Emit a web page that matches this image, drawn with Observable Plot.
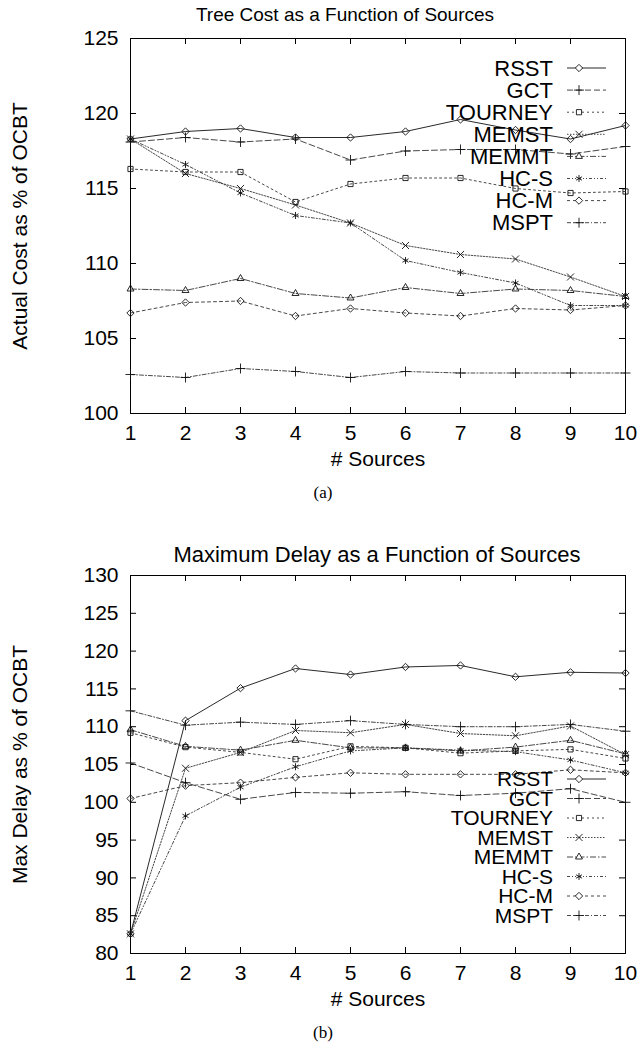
<!DOCTYPE html>
<html><head><meta charset="utf-8">
<script src="https://cdn.jsdelivr.net/npm/d3@7"></script>
<script src="https://cdn.jsdelivr.net/npm/@observablehq/plot@0.6"></script>
<style>
body{margin:0;background:#fff;}
#page{position:relative;width:638px;height:1046px;font-family:"Liberation Sans",Arial,Helvetica,sans-serif;color:#000;overflow:hidden}
.title{position:absolute;white-space:nowrap;transform:translate(-50%,-50%);line-height:1}
.cap{position:absolute;font-family:"Liberation Serif","Times New Roman",serif;transform:translate(-50%,-50%);font-size:17px;line-height:1}
.panel{position:absolute;left:0}
</style></head><body>
<div id="page">
  <div class="title" id="titleA" style="left:345px;top:14px;font-size:19px">Tree Cost as a Function of Sources</div>
  <div class="panel" id="panelA" style="top:22px"></div>
  <div class="cap" style="left:323px;top:492px">(a)</div>
  <div class="title" id="titleB" style="left:377px;top:555px;font-size:22px">Maximum Delay as a Function of Sources</div>
  <div class="panel" id="panelB" style="top:563px"></div>
  <div class="cap" style="left:323px;top:1032px">(b)</div>
</div>
<script>
// ---- data ----
const sources = [1, 2, 3, 4, 5, 6, 7, 8, 9, 10];
const seriesNames = ["RSST", "GCT", "TOURNEY", "MEMST", "MEMMT", "HC-S", "HC-M", "MSPT"];

// (a) Actual cost as % of OCBT
const costRSST    = [118.3, 118.8, 119.0, 118.4, 118.4, 118.8, 119.6, 118.9, 118.3, 119.2];
const costGCT     = [118.1, 118.4, 118.1, 118.3, 116.9, 117.5, 117.6, 117.6, 117.3, 117.8];
const costTOURNEY = [116.3, 116.1, 116.1, 114.1, 115.3, 115.7, 115.7, 115.0, 114.7, 114.8];
const costMEMST   = [118.3, 116.0, 115.0, 113.9, 112.7, 111.2, 110.6, 110.3, 109.1, 107.8];
const costMEMMT   = [108.3, 108.2, 109.0, 108.0, 107.7, 108.4, 108.0, 108.3, 108.2, 107.8];
const costHCS     = [118.3, 116.6, 114.7, 113.2, 112.7, 110.2, 109.4, 108.7, 107.2, 107.2];
const costHCM     = [106.7, 107.4, 107.5, 106.5, 107.0, 106.7, 106.5, 107.0, 106.9, 107.2];
const costMSPT    = [102.6, 102.4, 103.0, 102.8, 102.4, 102.8, 102.7, 102.7, 102.7, 102.7];

// (b) Max delay as % of OCBT
const delayRSST    = [82.6, 110.8, 115.1, 117.7, 116.9, 117.9, 118.1, 116.6, 117.2, 117.1];
const delayGCT     = [105.2, 102.6, 100.4, 101.3, 101.2, 101.4, 100.9, 101.2, 101.8, 100.0];
const delayTOURNEY = [109.2, 107.3, 106.6, 105.7, 107.4, 107.2, 106.5, 106.8, 107.0, 105.8];
const delayMEMST   = [82.6, 104.5, 106.6, 109.5, 109.2, 110.3, 109.1, 108.8, 110.1, 106.3];
const delayMEMMT   = [109.6, 107.4, 106.9, 108.2, 107.2, 107.2, 106.8, 107.3, 108.2, 106.4];
const delayHCS     = [82.6, 98.2, 102.0, 104.7, 106.8, 107.2, 106.9, 106.7, 105.6, 103.9];
const delayHCM     = [100.5, 102.2, 102.6, 103.3, 103.9, 103.7, 103.7, 103.7, 104.3, 103.9];
const delayMSPT    = [112.1, 110.2, 110.6, 110.3, 110.8, 110.3, 110.0, 110.0, 110.3, 109.4];

const costTicks  = [100, 105, 110, 115, 120, 125];
const delayTicks = [80, 85, 90, 95, 100, 105, 110, 115, 120, 125, 130];

const costSeries  = [costRSST, costGCT, costTOURNEY, costMEMST, costMEMMT, costHCS, costHCM, costMSPT];
const delaySeries = [delayRSST, delayGCT, delayTOURNEY, delayMEMST, delayMEMMT, delayHCS, delayHCM, delayMSPT];

// ---- styles ----
const dashes  = ["none", "6,3", "2,3", "1.5,1.5", "6,2,1.5,2", "3,2,1,2,1,2", "3,3", "4,2,1,2"];
const symbols = ["diamond2", "plus", "square2", "times", "triangle2", "asterisk", "diamond2", "plus"];
const d3sym = {diamond2: d3.symbolDiamond2, plus: d3.symbolPlus, square2: d3.symbolSquare2, times: d3.symbolTimes, triangle2: d3.symbolTriangle2, asterisk: d3.symbolAsterisk};
const lineColor = (i) => i === 0 ? "#111" : "#333";

function toRows(seriesArr) {
  const rows = [];
  seriesArr.forEach((vals, i) => vals.forEach((v, j) => rows.push({series: seriesNames[i], x: sources[j], y: v})));
  return rows;
}

function makePanel({series, yDomain, yTicks, yLabel, marginTop, plotH, marginBottom, legendY0, legendStep, legendFont}) {
  const width = 638, marginLeft = 130, marginRight = 13;
  const plotW = width - marginLeft - marginRight;
  const rows = toRows(series);
  const marks = [
    Plot.frame({stroke: "#000", strokeWidth: 1}),
    Plot.tickY(yTicks, {y: d => d, insetRight: plotW - 6, stroke: "#000"}),
    Plot.tickY(yTicks, {y: d => d, insetLeft: plotW - 6, stroke: "#000"}),
    Plot.tickX(sources, {x: d => d, insetTop: plotH - 6, stroke: "#000"}),
    Plot.tickX(sources, {x: d => d, insetBottom: plotH - 6, stroke: "#000"}),
    Plot.axisY({ticks: yTicks, tickSize: 0, tickPadding: 12, tickFormat: d => d, label: yLabel, labelAnchor: "center", labelOffset: 118, labelArrow: false}),
    Plot.axisX({ticks: sources, tickSize: 0, tickPadding: 12, tickFormat: d => d, label: "# Sources", labelAnchor: "center", labelOffset: 52, labelArrow: false})
  ];
  seriesNames.forEach((name, i) => {
    const data = rows.filter(r => r.series === name);
    marks.push(Plot.line(data, {x: "x", y: "y", stroke: lineColor(i), strokeWidth: 0.9, strokeDasharray: dashes[i] === "none" ? null : dashes[i]}));
    marks.push(Plot.dot(data, {x: "x", y: "y", symbol: symbols[i], r: 3.3, stroke: "#111", strokeWidth: 0.9, fill: "none"}));
  });
  // legend
  marks.push((index, scales, values, dims) => {
    const g = d3.create("svg:g");
    seriesNames.forEach((name, i) => {
      const y = dims.marginTop + legendY0 + i * legendStep;
      g.append("text").attr("x", 553).attr("y", y).attr("dy", "0.35em").attr("text-anchor", "end")
        .attr("font-size", legendFont).attr("fill", "#000").text(name);
      g.append("line").attr("x1", 567).attr("x2", 606).attr("y1", y).attr("y2", y)
        .attr("stroke", lineColor(i)).attr("stroke-width", 0.9)
        .attr("stroke-dasharray", dashes[i] === "none" ? null : dashes[i]);
      g.append("path").attr("transform", `translate(579,${y})`)
        .attr("d", d3.symbol(d3sym[symbols[i]], 3.3 * 3.3 * Math.PI)())
        .attr("fill", "#fff").attr("stroke", "#111").attr("stroke-width", 0.9);
    });
    return g.node();
  });
  return Plot.plot({
    width, height: marginTop + plotH + marginBottom,
    marginLeft, marginRight, marginTop, marginBottom,
    x: {domain: [1, 10]},
    y: {domain: yDomain},
    style: {fontFamily: '"Liberation Sans", Arial, Helvetica, sans-serif', fontSize: "21px", color: "#000", background: "transparent", overflow: "visible"},
    marks
  });
}

document.getElementById("panelA").append(makePanel({
  series: costSeries, yDomain: [100, 125], yTicks: costTicks, yLabel: "Actual Cost as % of OCBT",
  marginTop: 16, plotH: 375, marginBottom: 60, legendY0: 30, legendStep: 22.1, legendFont: "22px"
}));
document.getElementById("panelB").append(makePanel({
  series: delaySeries, yDomain: [80, 130], yTicks: delayTicks, yLabel: "Max Delay as % of OCBT",
  marginTop: 12, plotH: 378, marginBottom: 60, legendY0: 204, legendStep: 19.5, legendFont: "21px"
}));
</script>
</body></html>
